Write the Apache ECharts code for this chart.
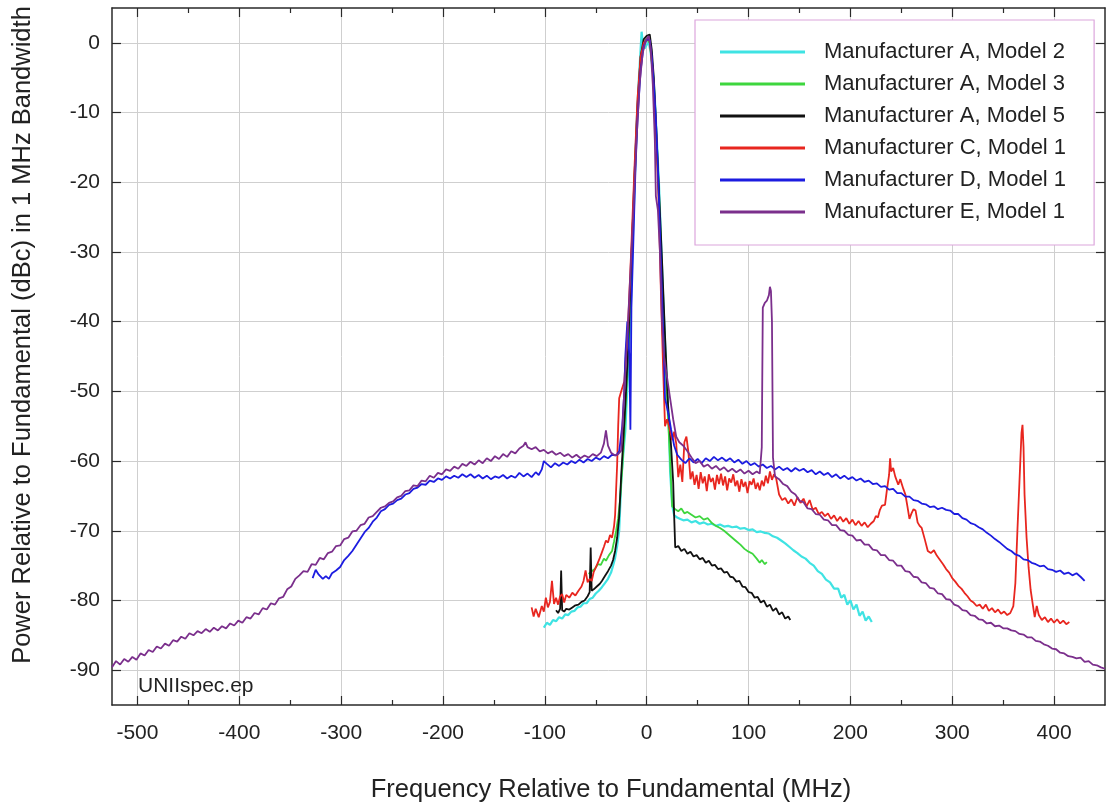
<!DOCTYPE html>
<html>
<head>
<meta charset="UTF-8">
<title>UNII spectrum</title>
<style>
  html, body { margin: 0; padding: 0; background: #fff; }
  #chart { width: 1107px; height: 807px; }
</style>
<script src="https://cdn.jsdelivr.net/npm/echarts@6/dist/echarts.min.js"></script>
</head>
<body>
<div id="chart"></div>
<script>
// tick positions
var xMajor = [-500, -400, -300, -200, -100, 0, 100, 200, 300, 400];
var xMinor = [-450, -350, -250, -150, -50, 50, 150, 250, 350];
var yMajor = [-90, -80, -70, -60, -50, -40, -30, -20, -10, 0];

var seriesNames = ['Manufacturer A, Model 2', 'Manufacturer A, Model 3', 'Manufacturer A, Model 5',
  'Manufacturer C, Model 1', 'Manufacturer D, Model 1', 'Manufacturer E, Model 1'];
var colors = ['#3fe3e3', '#3ed63e', '#111111', '#e8261f', '#1c1ce0', '#7b2f8c'];

// [MHz, dBc]
var mfrA2 = [[-101,-83.9],[-98,-83.2],[-95,-83.5],[-92,-82.8],[-89,-83.0],[-86,-82.4],[-83,-82.6],[-80,-82.0],[-77,-82.1],[-74,-81.6],[-71,-81.5],[-68,-81.0],[-65,-80.9],[-62,-80.4],[-59,-80.4],[-56,-79.8],[-53,-79.6],[-50,-79.0],[-47,-78.6],[-44,-78.1],[-41,-77.5],[-38,-76.9],[-35,-76.0],[-33,-75.0],[-31,-73.9],[-29,-72.2],[-27,-70.0],[-25,-62.9],[-23,-59],[-21,-55.7],[-18,-46.3],[-16,-39.6],[-14,-30],[-12,-21],[-10,-12],[-8,-6],[-6,-1],[-5,1.6],[-4,0.2],[-2,-0.8],[0,-0.3],[2,0.1],[4,-1.5],[6,-4],[8,-8],[10,-14],[12,-20],[14,-28],[16,-36],[18,-43],[20,-50],[22,-56],[23,-61.5],[25,-66.3],[27,-67.8],[30,-68.1],[33,-68.3],[36,-68.5],[40,-68.4],[44,-68.8],[48,-68.6],[52,-69.0],[56,-68.8],[60,-69.1],[64,-69.0],[68,-69.3],[72,-69.1],[76,-69.4],[80,-69.3],[84,-69.5],[88,-69.4],[92,-69.7],[96,-69.6],[100,-69.9],[104,-69.8],[108,-70.2],[112,-70.1],[116,-70.3],[120,-70.4],[124,-70.8],[128,-71.0],[132,-71.4],[136,-71.8],[140,-72.3],[144,-72.8],[148,-73.2],[152,-73.7],[156,-74.0],[160,-74.6],[164,-75.0],[168,-75.8],[172,-76.2],[176,-77.0],[180,-77.4],[184,-78.3],[188,-78.3],[191,-79.6],[194,-79.2],[197,-80.6],[200,-80.0],[203,-81.3],[206,-80.6],[209,-82.2],[212,-81.6],[215,-82.9],[218,-82.3],[221,-83.1]];

var mfrA3 = [[-57,-76.2],[-54,-75.8],[-51,-75.5],[-48,-74.8],[-45,-74.9],[-42,-74.0],[-40,-74.3],[-37,-73.5],[-34,-72.9],[-32,-71.5],[-30,-70.0],[-28,-68.2],[-26,-65.3],[-24,-61],[-22,-56],[-20,-50],[-18,-45],[-15,-33],[-12,-20],[-9,-10],[-6,-3],[-3,0],[0,0.5],[3,0],[6,-4],[9,-12],[12,-22],[15,-33],[18,-44],[21,-54],[23,-60],[25,-66.5],[28,-66.9],[31,-67.2],[34,-66.8],[37,-67.5],[40,-67.3],[44,-67.7],[48,-68.1],[52,-67.9],[56,-68.4],[60,-68.2],[64,-68.9],[68,-69.3],[72,-69.6],[76,-70.0],[80,-70.5],[84,-71.0],[88,-71.5],[92,-72.0],[96,-72.6],[100,-73.0],[104,-73.3],[108,-74.0],[111,-74.6],[113,-74.2],[116,-74.8],[118,-74.5]];

var mfrA5 = [[-89,-81.4],[-87,-81.8],[-85,-81.2],[-84,-75.7],[-83,-81.4],[-81,-81.6],[-79,-81.2],[-76,-81.3],[-73,-81.0],[-70,-80.7],[-67,-80.6],[-64,-80.2],[-61,-80.0],[-58,-79.4],[-56,-78.8],[-55,-72.4],[-54,-78.6],[-52,-78.4],[-49,-78.0],[-46,-77.6],[-44,-77.2],[-41,-76.5],[-38,-75.8],[-35,-75.0],[-33,-74.2],[-31,-72.9],[-29,-71.0],[-27,-68],[-25,-62],[-23,-57],[-21,-52],[-18,-43],[-15,-31],[-12,-19],[-9,-9],[-6,-2],[-3,0.5],[0,1],[3,1.2],[5,-1],[7,-5],[9,-11],[12,-21],[15,-31],[18,-42],[21,-52],[24,-58],[26,-63],[27,-68],[28,-72.4],[31,-72.2],[34,-72.9],[37,-72.6],[40,-73.3],[43,-73.0],[46,-73.7],[49,-73.5],[52,-74.1],[55,-73.9],[58,-74.6],[61,-74.3],[64,-75.0],[67,-74.9],[70,-75.5],[73,-75.4],[76,-76.0],[79,-75.9],[82,-76.6],[85,-76.7],[88,-77.3],[91,-77.2],[94,-78.0],[97,-78.1],[100,-78.8],[103,-78.9],[106,-79.6],[109,-79.5],[112,-80.3],[115,-80.0],[118,-80.9],[121,-80.6],[124,-81.5],[127,-81.1],[130,-82.0],[133,-81.7],[136,-82.6],[139,-82.3],[141,-82.8]];

var mfrC1 = [[-113,-81.0],[-111,-82.3],[-109,-81.2],[-106,-82.4],[-103,-80.8],[-101,-81.6],[-99,-79.6],[-97,-81.0],[-95,-80.2],[-93,-77.2],[-91,-80.5],[-89,-79.6],[-87,-80.6],[-85,-79.4],[-83,-79.1],[-81,-80.3],[-79,-79.2],[-76,-79.6],[-73,-78.9],[-70,-79.3],[-67,-78.6],[-64,-78.0],[-62,-77.2],[-60,-75.7],[-58,-77.4],[-56,-76.9],[-54,-77.2],[-52,-75.9],[-50,-75.3],[-48,-74.6],[-46,-73.9],[-44,-73.1],[-42,-72.3],[-40,-71.4],[-38,-71.7],[-36,-70.6],[-34,-71.0],[-32,-69.3],[-31,-67.7],[-30,-64],[-29,-60.5],[-28,-55],[-27,-51],[-25,-50],[-22,-48.6],[-20,-44],[-18,-39.6],[-15,-29],[-12,-18],[-9,-8],[-6,-2],[-3,0],[0,0.5],[3,0.3],[6,-4],[9,-12],[12,-24],[14,-36],[16,-46],[18,-55],[20,-54],[22,-55],[25,-57],[27,-55.8],[29,-57.5],[31,-62.3],[33,-60.5],[35,-63.0],[37,-57.3],[39,-56.5],[41,-58.8],[43,-62.6],[45,-61.5],[47,-63.4],[49,-62.0],[51,-64.0],[53,-61.6],[55,-63.2],[57,-62.2],[59,-64.3],[61,-61.9],[63,-63.0],[65,-62.4],[67,-64.1],[69,-62.0],[71,-63.3],[73,-61.8],[75,-63.5],[77,-62.2],[79,-64.2],[81,-62.5],[83,-63.1],[85,-61.9],[87,-63.6],[89,-62.8],[91,-64.4],[93,-62.6],[95,-63.7],[97,-63.0],[99,-64.6],[101,-62.9],[103,-63.4],[105,-62.5],[107,-64.0],[109,-63.1],[111,-64.2],[113,-62.8],[115,-63.6],[117,-62.1],[119,-63.2],[121,-61.5],[123,-62.7],[125,-61.9],[127,-62.4],[130,-64.8],[133,-65.6],[136,-65.3],[139,-66.1],[142,-65.5],[145,-66.4],[148,-65.2],[151,-66.0],[154,-65.4],[157,-66.5],[160,-65.6],[163,-67.0],[166,-66.7],[169,-67.6],[172,-67.3],[175,-67.9],[178,-67.5],[181,-68.3],[184,-67.8],[187,-68.6],[190,-68.0],[193,-68.7],[196,-68.2],[199,-69.0],[202,-68.4],[205,-69.2],[208,-68.6],[211,-69.3],[214,-68.8],[217,-69.5],[220,-69.0],[223,-68.6],[225,-67.9],[227,-68.1],[229,-67.0],[231,-66.4],[234,-66.3],[236,-64.0],[238,-62.0],[239,-59.6],[240,-61.5],[242,-61.0],[244,-62.2],[247,-63.4],[249,-62.6],[252,-64.0],[254,-64.8],[256,-66.5],[258,-68.3],[260,-67.5],[262,-66.9],[264,-67.1],[266,-68.8],[268,-69.3],[270,-69.6],[273,-71.2],[276,-72.9],[279,-73.2],[282,-72.8],[285,-73.6],[288,-74.2],[291,-74.8],[294,-75.5],[297,-76.0],[300,-76.8],[303,-77.3],[306,-77.9],[309,-78.3],[312,-78.9],[315,-79.4],[318,-80.0],[321,-80.3],[324,-80.8],[327,-80.6],[330,-81.2],[333,-80.6],[336,-81.5],[339,-81.1],[342,-81.7],[345,-81.3],[348,-81.9],[351,-81.6],[354,-82.1],[357,-81.8],[360,-80.8],[362,-77.5],[364,-70.0],[366,-63.0],[368,-56.0],[369,-54.8],[370,-58.0],[371,-64.8],[373,-71.0],[375,-75.3],[377,-78.5],[379,-80.5],[381,-82.4],[383,-80.8],[385,-82.1],[388,-82.8],[391,-82.4],[394,-83.1],[397,-82.6],[400,-83.2],[403,-82.7],[406,-83.3],[409,-82.9],[412,-83.4],[415,-83.1]];

var mfrD1 = [[-328,-76.8],[-325,-75.6],[-322,-76.3],[-318,-76.9],[-315,-76.5],[-312,-76.9],[-309,-76.1],[-305,-75.7],[-301,-75.2],[-297,-74.2],[-293,-73.6],[-289,-72.9],[-285,-72.0],[-281,-71.1],[-277,-70.2],[-273,-69.6],[-269,-68.7],[-265,-68.1],[-261,-67.2],[-257,-66.9],[-253,-66.3],[-249,-66.1],[-245,-65.6],[-241,-65.4],[-237,-64.8],[-233,-64.6],[-229,-64.0],[-225,-63.8],[-221,-63.3],[-217,-63.4],[-213,-62.8],[-209,-63.0],[-205,-62.5],[-201,-62.7],[-197,-62.2],[-193,-62.5],[-189,-62.1],[-185,-62.4],[-181,-61.9],[-177,-62.3],[-173,-61.9],[-169,-62.4],[-165,-62.0],[-161,-62.5],[-157,-62.1],[-153,-62.6],[-149,-62.2],[-145,-62.4],[-141,-62.0],[-137,-62.5],[-133,-62.1],[-129,-62.4],[-125,-61.7],[-121,-62.2],[-117,-61.8],[-113,-62.3],[-109,-61.6],[-106,-62.0],[-103,-61.2],[-101,-60.0],[-98,-60.4],[-94,-60.9],[-90,-60.3],[-86,-60.7],[-82,-60.2],[-78,-60.5],[-74,-60.0],[-70,-60.3],[-66,-59.8],[-62,-60.2],[-58,-59.7],[-54,-60.0],[-50,-59.5],[-46,-59.8],[-42,-59.3],[-38,-59.6],[-34,-59.1],[-30,-59.2],[-27,-58.6],[-24,-55],[-22,-50],[-21,-45],[-19,-40],[-17,-45],[-16,-55.5],[-15,-38],[-13,-28],[-11,-18],[-9,-11],[-6,-4],[-3,-0.5],[0,0.5],[3,0.4],[5,-2],[7,-6],[9,-11],[11,-18],[13,-27],[15,-36],[17,-45],[18,-51],[21,-53],[24,-55.5],[27,-57.8],[30,-59.1],[34,-59.8],[38,-60.3],[42,-59.6],[46,-60.2],[50,-59.7],[54,-60.3],[58,-59.6],[62,-60.0],[66,-59.4],[70,-59.9],[74,-59.5],[78,-60.0],[82,-59.6],[86,-60.2],[90,-59.8],[94,-60.4],[98,-60.0],[102,-60.6],[106,-60.3],[110,-60.8],[114,-60.5],[118,-61.0],[122,-60.7],[126,-61.2],[130,-60.8],[134,-61.3],[138,-61.0],[142,-61.5],[146,-61.0],[150,-61.4],[154,-61.1],[158,-61.6],[162,-61.3],[166,-61.9],[170,-61.5],[174,-62.0],[178,-61.7],[182,-62.3],[186,-61.9],[190,-62.5],[194,-62.1],[198,-62.6],[202,-62.3],[206,-62.8],[210,-62.5],[214,-63.0],[218,-62.8],[222,-63.3],[226,-63.2],[230,-63.7],[234,-63.6],[238,-64.1],[242,-64.0],[246,-64.6],[250,-64.6],[254,-65.1],[258,-65.1],[262,-65.6],[266,-65.7],[270,-66.1],[274,-66.2],[278,-66.6],[282,-66.5],[286,-66.9],[290,-66.7],[294,-67.0],[298,-67.1],[302,-67.6],[306,-67.6],[310,-68.2],[314,-68.4],[318,-68.9],[322,-69.1],[326,-69.5],[330,-69.8],[334,-70.3],[338,-70.7],[342,-71.2],[346,-71.6],[350,-72.1],[354,-72.6],[358,-72.9],[362,-73.4],[366,-73.6],[370,-74.1],[374,-74.2],[378,-74.6],[382,-74.8],[386,-75.1],[390,-75.0],[394,-75.5],[398,-75.6],[402,-75.9],[406,-75.7],[410,-76.2],[414,-76.0],[418,-76.4],[422,-76.1],[426,-76.6],[430,-77.2]];

var mfrE1 = [[-525,-89.6],[-521,-88.7],[-517,-89.2],[-513,-88.4],[-509,-88.8],[-505,-88.1],[-501,-88.5],[-497,-87.6],[-493,-87.9],[-489,-87.1],[-485,-87.4],[-481,-86.6],[-477,-86.9],[-473,-86.2],[-469,-86.5],[-465,-85.7],[-461,-85.9],[-457,-85.2],[-453,-85.5],[-449,-84.7],[-445,-85.0],[-441,-84.4],[-437,-84.7],[-433,-84.1],[-429,-84.5],[-425,-83.9],[-421,-84.3],[-417,-83.7],[-413,-84.0],[-409,-83.3],[-405,-83.6],[-401,-82.9],[-397,-83.2],[-393,-82.4],[-389,-82.6],[-385,-81.8],[-381,-82.0],[-377,-81.1],[-373,-81.3],[-369,-80.4],[-365,-80.6],[-361,-79.7],[-357,-79.5],[-353,-78.4],[-349,-78.0],[-345,-76.9],[-341,-76.4],[-337,-75.8],[-333,-75.9],[-329,-74.8],[-325,-74.9],[-321,-73.9],[-317,-74.1],[-313,-73.2],[-309,-73.0],[-305,-72.2],[-301,-72.1],[-297,-71.2],[-293,-71.0],[-289,-70.1],[-285,-70.0],[-281,-69.2],[-277,-69.0],[-273,-68.1],[-269,-67.9],[-265,-67.3],[-261,-66.7],[-257,-66.5],[-253,-66.0],[-249,-65.8],[-245,-65.2],[-241,-65.0],[-237,-64.3],[-233,-64.2],[-229,-63.5],[-225,-63.6],[-221,-62.8],[-217,-62.9],[-213,-62.1],[-209,-62.4],[-205,-61.7],[-201,-61.9],[-197,-61.2],[-193,-61.4],[-189,-60.8],[-185,-61.1],[-181,-60.4],[-177,-60.7],[-173,-60.1],[-169,-60.5],[-165,-59.9],[-161,-60.3],[-157,-59.6],[-153,-60.0],[-149,-59.3],[-145,-59.7],[-141,-59.0],[-137,-59.4],[-133,-58.6],[-129,-58.9],[-125,-58.2],[-121,-57.8],[-119,-57.3],[-117,-58.0],[-113,-58.3],[-109,-58.0],[-105,-58.6],[-101,-58.4],[-97,-58.9],[-93,-58.6],[-89,-59.1],[-85,-58.8],[-81,-59.3],[-77,-59.0],[-73,-59.5],[-69,-59.1],[-65,-59.6],[-61,-59.2],[-57,-59.5],[-53,-59.0],[-49,-59.3],[-45,-58.8],[-42,-57.5],[-40,-55.6],[-38,-57.8],[-35,-58.8],[-31,-59.2],[-28,-59.0],[-25,-58.5],[-22,-50],[-19,-42],[-16,-33],[-13,-24],[-10,-14],[-7,-6],[-4,-1.5],[-1,0.3],[2,1.0],[4,-1],[6,-6],[8,-14],[9,-22],[11,-24],[13,-30],[15,-40],[17,-45],[20,-48],[23,-51],[26,-54],[29,-56.5],[32,-57.3],[36,-57.8],[40,-58.6],[44,-59.5],[48,-60.3],[52,-60.0],[56,-60.8],[60,-60.5],[64,-61.1],[68,-60.7],[72,-61.3],[76,-60.9],[80,-61.5],[84,-61.1],[88,-61.6],[92,-61.2],[96,-61.8],[100,-61.4],[104,-61.9],[108,-61.5],[111,-61.8],[113,-58],[114,-38],[116,-37.3],[118,-37.0],[120,-36.2],[121,-35.0],[122,-35.6],[123,-40],[124,-59.5],[126,-62.2],[130,-62.6],[134,-63.3],[138,-63.6],[142,-64.4],[146,-64.8],[150,-65.7],[154,-65.9],[158,-66.8],[162,-66.9],[166,-67.6],[170,-67.7],[174,-68.4],[178,-68.5],[182,-69.2],[186,-69.2],[190,-69.9],[194,-70.0],[198,-70.6],[202,-70.7],[206,-71.4],[210,-71.3],[214,-72.0],[218,-72.0],[222,-72.7],[226,-72.8],[230,-73.5],[234,-73.5],[238,-74.2],[242,-74.3],[246,-75.0],[250,-75.0],[254,-75.8],[258,-75.9],[262,-76.6],[266,-76.7],[270,-77.4],[274,-77.5],[278,-78.2],[282,-78.3],[286,-79.0],[290,-79.1],[294,-79.8],[298,-79.9],[302,-80.6],[306,-80.8],[310,-81.4],[314,-81.5],[318,-82.1],[322,-82.2],[326,-82.7],[330,-82.8],[334,-83.3],[338,-83.2],[342,-83.7],[346,-83.6],[350,-84.0],[354,-84.0],[358,-84.3],[362,-84.4],[366,-84.8],[370,-84.9],[374,-85.3],[378,-85.3],[382,-85.8],[386,-85.9],[390,-86.3],[394,-86.5],[398,-86.9],[402,-87.0],[406,-87.5],[410,-87.6],[414,-88.0],[418,-88.1],[422,-88.3],[426,-88.2],[430,-88.8],[434,-88.7],[438,-89.2],[442,-89.3],[446,-89.6],[450,-89.8]];

var allData = [mfrA2, mfrA3, mfrA5, mfrC1, mfrD1, mfrE1];

var chart = echarts.init(document.getElementById('chart'));

var FONT = 'Liberation Sans, Arial, sans-serif';
var frame = { show: true, onZero: false, lineStyle: { color: '#2a2a2a', width: 1.5 } };
var gridLine = { show: true, lineStyle: { color: '#cfcfcf', width: 1 } };

function xAx(pos, ticks, len, main) {
  return {
    type: 'value', min: -525, max: 450, position: pos,
    axisLine: main ? frame : { show: false, onZero: false },
    axisTick: { show: true, inside: true, length: len, customValues: ticks, lineStyle: { color: '#2a2a2a', width: 1.2 } },
    axisLabel: (main && pos === 'bottom') ? { show: true, customValues: ticks, fontSize: 21, fontFamily: FONT, color: '#222', margin: 18 } : { show: false },
    splitLine: (main && pos === 'bottom') ? gridLine : { show: false }
  };
}

var option = {
  animation: false,
  backgroundColor: '#fff',
  grid: { left: 112, right: 2, top: 8, bottom: 102, containLabel: false },
  xAxis: [
    xAx('bottom', xMajor, 9, true),
    xAx('bottom', xMinor, 5, false),
    xAx('top', xMajor, 9, true),
    xAx('top', xMinor, 5, false)
  ],
  yAxis: [{
    type: 'value', min: -95, max: 5, position: 'left',
    axisLine: frame,
    axisTick: { show: true, inside: true, length: 9, customValues: yMajor, lineStyle: { color: '#2a2a2a', width: 1.2 } },
    axisLabel: { show: true, customValues: yMajor, fontSize: 21, fontFamily: FONT, color: '#222', margin: 12 },
    splitLine: gridLine
  }, {
    type: 'value', min: -95, max: 5, position: 'right',
    axisLine: frame,
    axisTick: { show: true, inside: true, length: 9, customValues: yMajor, lineStyle: { color: '#2a2a2a', width: 1.2 } },
    axisLabel: { show: false },
    splitLine: { show: false }
  }],
  legend: {
    data: seriesNames,
    orient: 'vertical',
    left: 695, top: 20,
    padding: [21, 28, 22, 25],
    icon: 'rect',
    itemWidth: 85, itemHeight: 3, itemGap: 10,
    backgroundColor: '#fff',
    borderColor: '#dca6dc', borderWidth: 1.2,
    textStyle: { fontSize: 22, fontFamily: FONT, color: '#222', padding: [0, 0, 0, 14] }
  },
  graphic: [
    { type: 'text', x: 23, y: 335, rotation: Math.PI / 2, z: 10,
      style: { text: 'Power Relative to Fundamental (dBc) in 1 MHz Bandwidth', font: '25.5px ' + FONT, fill: '#222', textAlign: 'center', textVerticalAlign: 'middle' } },
    { type: 'text', x: 611, y: 790, z: 10,
      style: { text: 'Frequency Relative to Fundamental (MHz)', font: '25.5px ' + FONT, fill: '#222', textAlign: 'center', textVerticalAlign: 'middle' } },
    { type: 'text', x: 138, y: 686, z: 10,
      style: { text: 'UNIIspec.ep', font: '21px ' + FONT, fill: '#222', textAlign: 'left', textVerticalAlign: 'middle' } }
  ],
  series: seriesNames.map(function (name, i) {
    return {
      name: name, type: 'line', xAxisIndex: 0, yAxisIndex: 0,
      data: allData[i], symbol: 'none', showSymbol: false,
      lineStyle: { color: colors[i], width: i === 0 ? 2.2 : 1.8 },
      itemStyle: { color: colors[i] },
      clip: true
    };
  })
};

chart.setOption(option);
</script>
</body>
</html>
